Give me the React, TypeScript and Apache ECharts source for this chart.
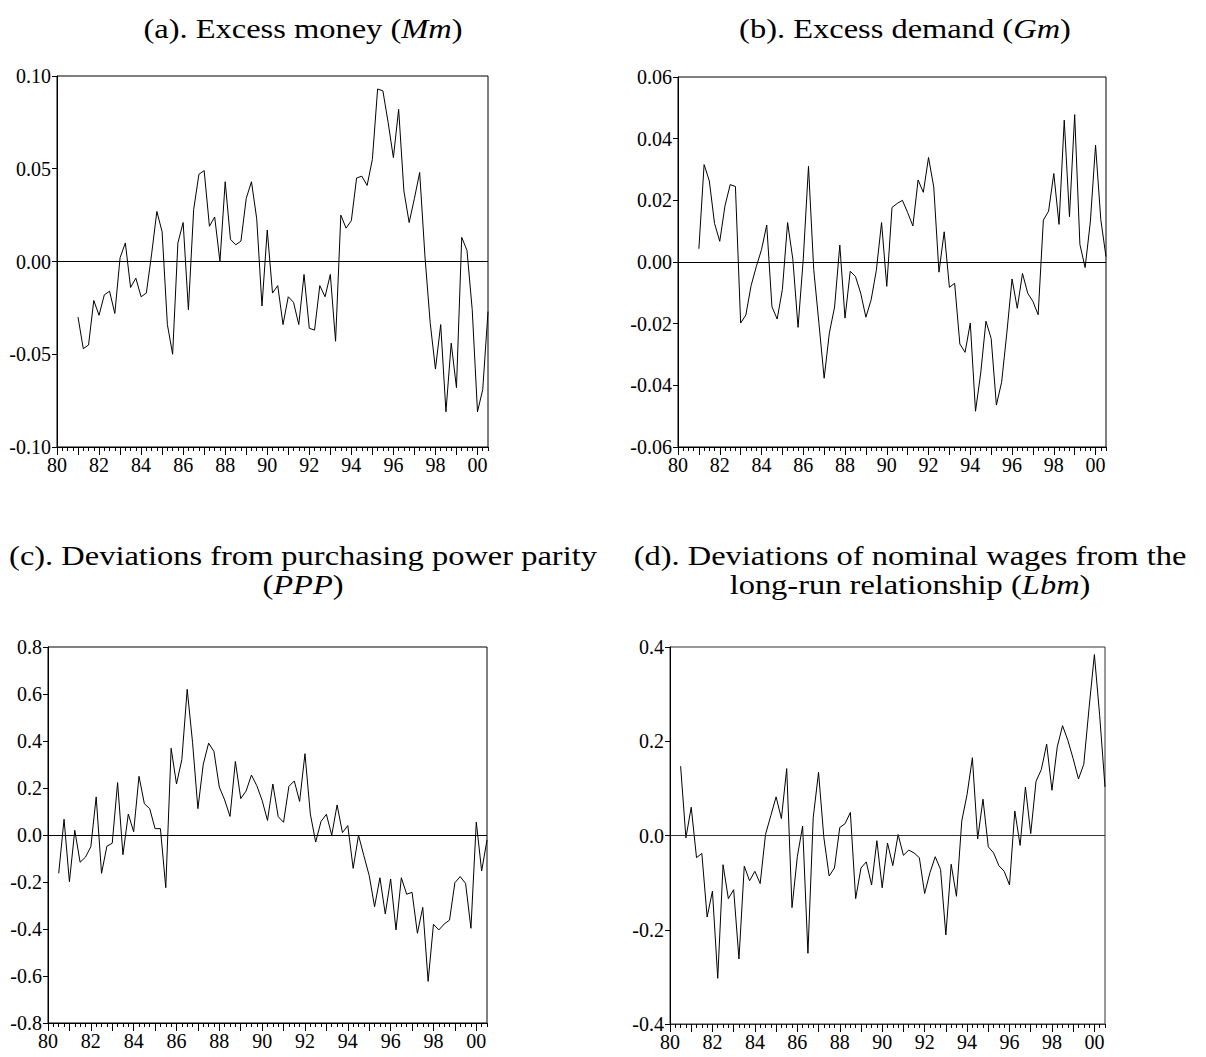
import React, { useEffect, useRef } from "react";
import * as echarts from "echarts";

// Quarterly categories 1980Q1 .. 2000Q3
const quarters: string[] = [];
for (let y = 1980; y <= 2000; y++) {
  for (let q = 1; q <= 4; q++) {
    if (y === 2000 && q > 3) break;
    quarters.push(`${y}Q${q}`);
  }
}

// (a) Excess money (Mm), 1981Q1 .. 2000Q3
const mmStart = "1981Q1";
const mmValues = [
  -0.030, -0.047, -0.045, -0.021, -0.029, -0.018, -0.016, -0.028,
  0.002, 0.010, -0.014, -0.009, -0.019, -0.017, 0.004, 0.027,
  0.016, -0.034, -0.050, 0.010, 0.021, -0.026, 0.028, 0.047,
  0.049, 0.019, 0.024, 0.000, 0.043, 0.012, 0.009, 0.011,
  0.034, 0.043, 0.023, -0.024, 0.017, -0.017, -0.013, -0.034,
  -0.019, -0.022, -0.034, -0.007, -0.036, -0.037, -0.013, -0.019,
  -0.007, -0.043, 0.025, 0.018, 0.022, 0.045, 0.046, 0.041,
  0.055, 0.093, 0.092, 0.075, 0.056, 0.082, 0.038, 0.021,
  0.034, 0.048, 0.003, -0.033, -0.058, -0.034, -0.081, -0.044,
  -0.068, 0.013, 0.006, -0.026, -0.081, -0.069, -0.027,
];

// (b) Excess demand (Gm), 1981Q1 .. 2000Q3
const gmStart = "1981Q1";
const gmValues = [
  0.0043, 0.0316, 0.0263, 0.0125, 0.0067, 0.0182, 0.0251, 0.0245,
  -0.0198, -0.0172, -0.0077, -0.0015, 0.004, 0.012, -0.0145, -0.0185,
  -0.0089, 0.0128, 0.0009, -0.0212, 0.001, 0.031, -0.0024, -0.0199,
  -0.0377, -0.023, -0.0146, 0.0055, -0.0182, -0.003, -0.0047, -0.0101,
  -0.0179, -0.0123, -0.0027, 0.0128, -0.0079, 0.0177, 0.019, 0.020,
  0.016, 0.0117, 0.0266, 0.0226, 0.0339, 0.0243, -0.0033, 0.0098,
  -0.0082, -0.0069, -0.0266, -0.0293, -0.0198, -0.0484, -0.036, -0.0192,
  -0.0248, -0.0464, -0.039, -0.023, -0.0055, -0.015, -0.0037, -0.0101,
  -0.0128, -0.0171, 0.0136, 0.0165, 0.0287, 0.0122, 0.046, 0.0147,
  0.0478, 0.0057, -0.0018, 0.013, 0.0379, 0.0138, 0.0017,
];

// (c) Deviations from PPP, 1980Q3 .. 2000Q3
const pppStart = "1980Q3";
const pppValues = [
  -0.163, 0.067, -0.199, 0.020, -0.116, -0.094, -0.050, 0.162, -0.163, -0.048,
  -0.035, 0.223, -0.084, 0.089, 0.014, 0.250, 0.133, 0.112, 0.027, 0.027,
  -0.224, 0.369, 0.217, 0.321, 0.620, 0.394, 0.112, 0.301, 0.391, 0.355,
  0.204, 0.149, 0.079, 0.313, 0.155, 0.187, 0.255, 0.210, 0.147, 0.062,
  0.217, 0.078, 0.054, 0.207, 0.230, 0.143, 0.346, 0.089, -0.030, 0.058,
  0.088, -0.001, 0.128, 0.010, 0.040, -0.142, -0.001, -0.088, -0.173, -0.305,
  -0.182, -0.336, -0.187, -0.404, -0.182, -0.252, -0.244, -0.418, -0.308, -0.623,
  -0.380, -0.404, -0.379, -0.362, -0.203, -0.177, -0.206, -0.397, 0.055, -0.153,
  -0.021,
];

// (d) Deviations of nominal wages (Lbm), 1980Q3 .. 2000Q3
const lbmStart = "1980Q3";
const lbmValues = [
  0.147, -0.005, 0.060, -0.047, -0.038, -0.173, -0.118, -0.303, -0.062, -0.134,
  -0.115, -0.262, -0.065, -0.096, -0.076, -0.102, 0.002, 0.042, 0.082, 0.036,
  0.142, -0.153, -0.045, 0.020, -0.250, 0.038, 0.134, -0.004, -0.086, -0.069,
  0.017, 0.025, 0.049, -0.134, -0.069, -0.056, -0.105, -0.011, -0.111, -0.016,
  -0.064, 0.002, -0.042, -0.031, -0.037, -0.047, -0.123, -0.079, -0.045, -0.072,
  -0.211, -0.061, -0.129, 0.031, 0.087, 0.165, -0.007, 0.077, -0.024, -0.037,
  -0.064, -0.076, -0.105, 0.052, -0.021, 0.103, 0.004, 0.115, 0.140, 0.194,
  0.096, 0.188, 0.233, 0.202, 0.163, 0.120, 0.151, 0.271, 0.384, 0.254,
  0.103,
];

// y-axis scales
const mmAxis = { min: -0.1, max: 0.1, interval: 0.05, decimals: 2 };
const gmAxis = { min: -0.06, max: 0.06, interval: 0.02, decimals: 2 };
const pppAxis = { min: -0.8, max: 0.8, interval: 0.2, decimals: 1 };
const lbmAxis = { min: -0.4, max: 0.4, interval: 0.2, decimals: 1 };

const FONT = "Liberation Serif";

function pad(start: string, values: number[]): (number | null)[] {
  const idx = quarters.indexOf(start);
  const out: (number | null)[] = quarters.map(() => null);
  values.forEach((v, i) => {
    out[idx + i] = v;
  });
  return out;
}

export default function App() {
  const ref = useRef<HTMLDivElement>(null);

  useEffect(() => {
    document.body.style.margin = "0";
    document.body.style.background = "#fff";
    if (!ref.current) return;
    const chart = echarts.init(ref.current, undefined, { renderer: "svg" });

    const panels = [
      { values: pad(mmStart, mmValues), axis: mmAxis, grid: { left: 57, top: 76, width: 431, height: 371 }, frame: "#000" },
      { values: pad(gmStart, gmValues), axis: gmAxis, grid: { left: 678, top: 77, width: 428, height: 370 }, frame: "#000" },
      { values: pad(pppStart, pppValues), axis: pppAxis, grid: { left: 48, top: 647, width: 439, height: 376 }, frame: "#000" },
      { values: pad(lbmStart, lbmValues), axis: lbmAxis, grid: { left: 670, top: 647, width: 435, height: 377 }, frame: "#333" },
    ];

    const grids: any[] = [];
    const xAxes: any[] = [];
    const yAxes: any[] = [];
    const series: any[] = [];

    panels.forEach((p, i) => {
      grids.push({
        ...p.grid,
        show: true,
        borderColor: p.frame,
        borderWidth: 1,
        backgroundColor: "transparent",
        containLabel: false,
      });
      // quarterly ticks
      xAxes.push({
        type: "category",
        gridIndex: i,
        data: quarters,
        boundaryGap: false,
        position: "bottom",
        axisLine: { show: true, onZero: false, lineStyle: { color: p.frame, width: 1 } },
        axisTick: { show: true, interval: 0, length: 4, lineStyle: { color: "#000", width: 1 } },
        axisLabel: { show: false },
        splitLine: { show: false },
      });
      // yearly ticks + labels
      xAxes.push({
        type: "category",
        gridIndex: i,
        data: quarters,
        boundaryGap: false,
        position: "bottom",
        axisLine: { show: false, onZero: false },
        axisTick: {
          show: true,
          interval: (idx: number) => idx % 4 === 0,
          length: 8,
          lineStyle: { color: "#000", width: 1 },
        },
        axisLabel: {
          show: true,
          interval: (idx: number) => idx % 8 === 0,
          formatter: (v: string) => v.slice(2, 4),
          color: "#000",
          fontFamily: FONT,
          fontSize: 20,
          margin: 8,
        },
        splitLine: { show: false },
      });
      const dec = p.axis.decimals;
      yAxes.push({
        type: "value",
        gridIndex: i,
        min: p.axis.min,
        max: p.axis.max,
        interval: p.axis.interval,
        axisLine: { show: true, onZero: false, lineStyle: { color: "#000", width: 1 } },
        axisTick: { show: true, length: 5, lineStyle: { color: "#000", width: 1 } },
        axisLabel: {
          color: "#000",
          fontFamily: FONT,
          fontSize: 20,
          margin: 6,
          formatter: (v: number) => (Math.abs(v) < 1e-9 ? 0 : v).toFixed(dec),
        },
        splitLine: { show: false },
      });
      series.push({
        type: "line",
        xAxisIndex: i * 2,
        yAxisIndex: i,
        data: p.values,
        showSymbol: false,
        symbol: "none",
        connectNulls: false,
        lineStyle: { color: "#000", width: 1 },
        itemStyle: { color: "#000" },
        markLine: {
          silent: true,
          symbol: "none",
          label: { show: false },
          lineStyle: { color: p.frame, width: 1, type: "solid" },
          data: [{ yAxis: 0 }],
        },
      });
    });

    const titleStyle = (text: string) => ({
      text,
      fontFamily: FONT,
      fontSize: 28,
      lineHeight: 29,
      fill: "#000",
      align: "center",
      textAlign: "center",
      verticalAlign: "middle",
      textVerticalAlign: "middle",
      rich: {
        i: { fontFamily: FONT, fontSize: 28, lineHeight: 29, fontStyle: "italic", fill: "#000" },
      },
    });

    const titles = [
      { x: 303, y: 29, text: "(a). Excess money ({i|Mm})" },
      { x: 905, y: 29, text: "(b). Excess demand ({i|Gm})" },
      { x: 303, y: 570, text: "(c). Deviations from purchasing power parity\n({i|PPP})" },
      { x: 910, y: 570, text: "(d). Deviations of nominal wages from the\nlong-run relationship ({i|Lbm})" },
    ];

    chart.setOption({
      animation: false,
      backgroundColor: "#fff",
      grid: grids,
      xAxis: xAxes,
      yAxis: yAxes,
      series,
      graphic: titles.map((t) => ({
        type: "text",
        x: t.x,
        y: t.y,
        scaleX: 1.16,
        scaleY: 1,
        silent: true,
        style: titleStyle(t.text),
      })),
    });

    return () => {
      chart.dispose();
    };
  }, []);

  return <div ref={ref} style={{ width: 1206, height: 1057 }} />;
}
